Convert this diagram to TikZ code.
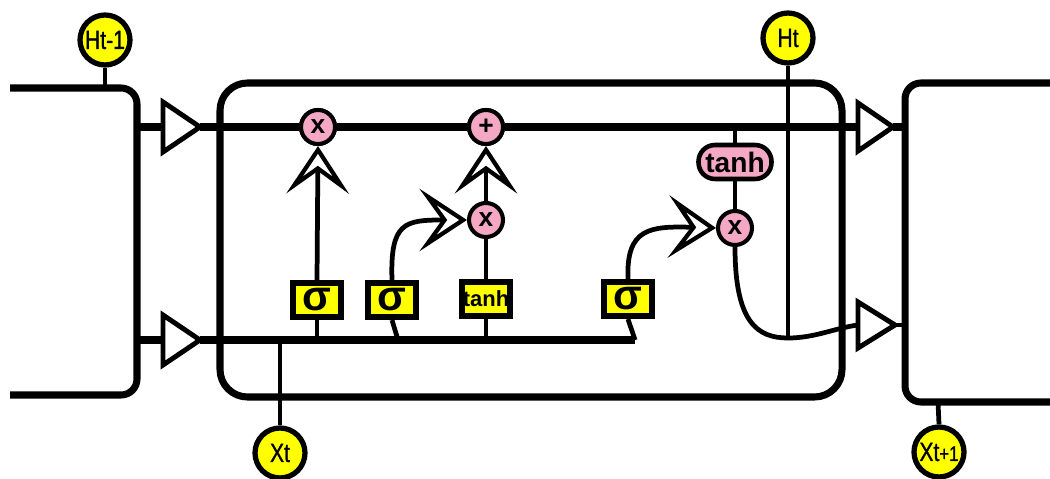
\documentclass[tikz,border=0pt]{standalone}
\usepackage{fontspec}
\setmainfont{Liberation Sans}
\newfontfamily\narrowfont{Liberation Sans}[FakeStretch=0.8,FakeBold=1]
\usetikzlibrary{arrows.meta}
\definecolor{gy}{RGB}{255,255,0}
\definecolor{pk}{RGB}{244,168,196}
\begin{document}
\begin{tikzpicture}[x=0.02cm,y=-0.02cm,
  frame/.style={line width=4pt, line join=round},
  wire/.style={line width=2.7pt},
  io/.style={circle, draw, line width=3pt, fill=gy, minimum size=1.0cm, inner sep=0pt, font=\narrowfont\fontsize{15}{15}\selectfont},
  op/.style={circle, draw, line width=2.3pt, fill=pk, minimum size=0.68cm, inner sep=0pt, font=\bfseries\fontsize{15}{15}\selectfont},
  gate/.style={rectangle, draw, line width=3.2pt, fill=gy, minimum width=0.95cm, minimum height=0.69cm, inner sep=0pt, font=\bfseries\fontsize{24}{24}\selectfont},
  tri/.style={line width=2.8pt, fill=white, line join=miter},
  oarrow/.style={-{Stealth[fill=white, length=0.95cm, width=1.25cm, inset=0.45cm, line width=2.4pt]}}
]
\useasboundingbox (0,0) rectangle (1050,479);

% frames
\draw[frame, rounded corners=0.32cm] (10,88) -| (137,395) -- (10,395);
\draw[frame, rounded corners=0.55cm] (220,83) rectangle (842,397);
\draw[frame, rounded corners=0.32cm] (1060,83) -| (905,402) -- (1060,402);

% free-end coordinates
\coordinate (lU) at (137,127);
\coordinate (lL) at (137,340);
\coordinate (rU) at (905,127);
\coordinate (rL) at (905,325);
\coordinate (hpJ) at (105,88);
\coordinate (xnJ) at (938,402);
\coordinate (xtJ) at (280,340);
\coordinate (lowEnd) at (635,340);
\coordinate (j1) at (317,340);
\coordinate (j2) at (398,340);
\coordinate (j3) at (486,340);
\coordinate (htJ) at (788,338);
\coordinate (thJ) at (735,127);

% triangles
\coordinate (t1w) at (163,127); \coordinate (t1e) at (200,127);
\coordinate (t2w) at (163,340); \coordinate (t2e) at (200,340);
\coordinate (t3w) at (858,127); \coordinate (t3e) at (893,127);
\coordinate (t4w) at (858,325); \coordinate (t4e) at (895,325);

% nodes
\node[io] (hprev) at (105,40) {Ht-1};
\node[io] (ht) at (788,38) {Ht};
\node[io] (xt) at (280,453) {Xt};
\node[io] (xnext) at (939,452) {Xt{\fontsize{12}{12}\selectfont+1}};

\node[op] (fx) at (318,127) {x};
\node[op] (plus) at (486,127) {+};
\node[op] (ix) at (486,220) {x};
\node[op] (ox) at (735,228) {x};

\node[gate] (s1) at (317,300) {σ};
\node[gate] (s2) at (392,300) {σ};
\node[gate, font=\bfseries\fontsize{12.5}{12.5}\selectfont] (tb) at (486,299) {tanh};
\node[gate] (s4) at (628,299) {σ};

\node[draw, fill=pk, line width=2.6pt, rounded corners=0.33cm, minimum width=1.46cm, minimum height=0.68cm, inner sep=0pt, font=\bfseries\fontsize{16}{16}\selectfont] (th) at (735,162) {tanh};

% cell lines
\draw[frame] (lU) -- (t1w);
\draw[frame] (t1e) -- (fx.west);
\draw[frame] (fx.east) -- (plus.west);
\draw[frame] (plus.east) -- (t3w);
\draw[frame] (t3e) -- (rU);
\draw[frame] (lL) -- (t2w);
\draw[frame] (t2e) -- (lowEnd);
\draw[wire] (t4e) -- (rL);

\draw[tri] (163,102) -- (t1e) -- (163,152) -- cycle;
\draw[tri] (163,315) -- (t2e) -- (163,365) -- cycle;
\draw[tri] (858,103) -- (t3e) -- (858,151) -- cycle;
\draw[tri] (858,302) -- (t4e) -- (858,348) -- cycle;

% stems
\draw[wire] (hprev.south) -- (hpJ);
\draw[wire] (xt.north) -- (xtJ);
\draw[wire] (xnext.north) -- (xnJ);
\draw[wire] (ht.south) -- (htJ);

\draw[wire] (s1.south) -- (j1);
\draw[wire] (s2.south) -- (j2);
\draw[wire] (tb.south) -- (j3);
\draw[wire] (s4.south) -- (lowEnd);

\draw[wire, oarrow] (s1.north) -- (fx.south);
\draw[wire] (tb.north) -- (ix.south);
\draw[wire, oarrow] (ix.north) -- (plus.south);
\draw[wire, oarrow] (s2.north) .. controls (390,222) and (405,220) .. (ix.west);
\draw[wire, oarrow] (s4.north) .. controls (626,228) and (650,226) .. (ox.west);

\draw[wire] (thJ) -- (th.north);
\draw[wire] (th.south) -- (ox.north);
\draw[wire] (ox.south) .. controls (735,322) and (757,338) .. (htJ) .. controls (815,338) and (835,328) .. (t4w);

% redraw nodes on top
\node[op] at (fx) {x};
\node[op] at (plus) {+};
\end{tikzpicture}
\end{document}
